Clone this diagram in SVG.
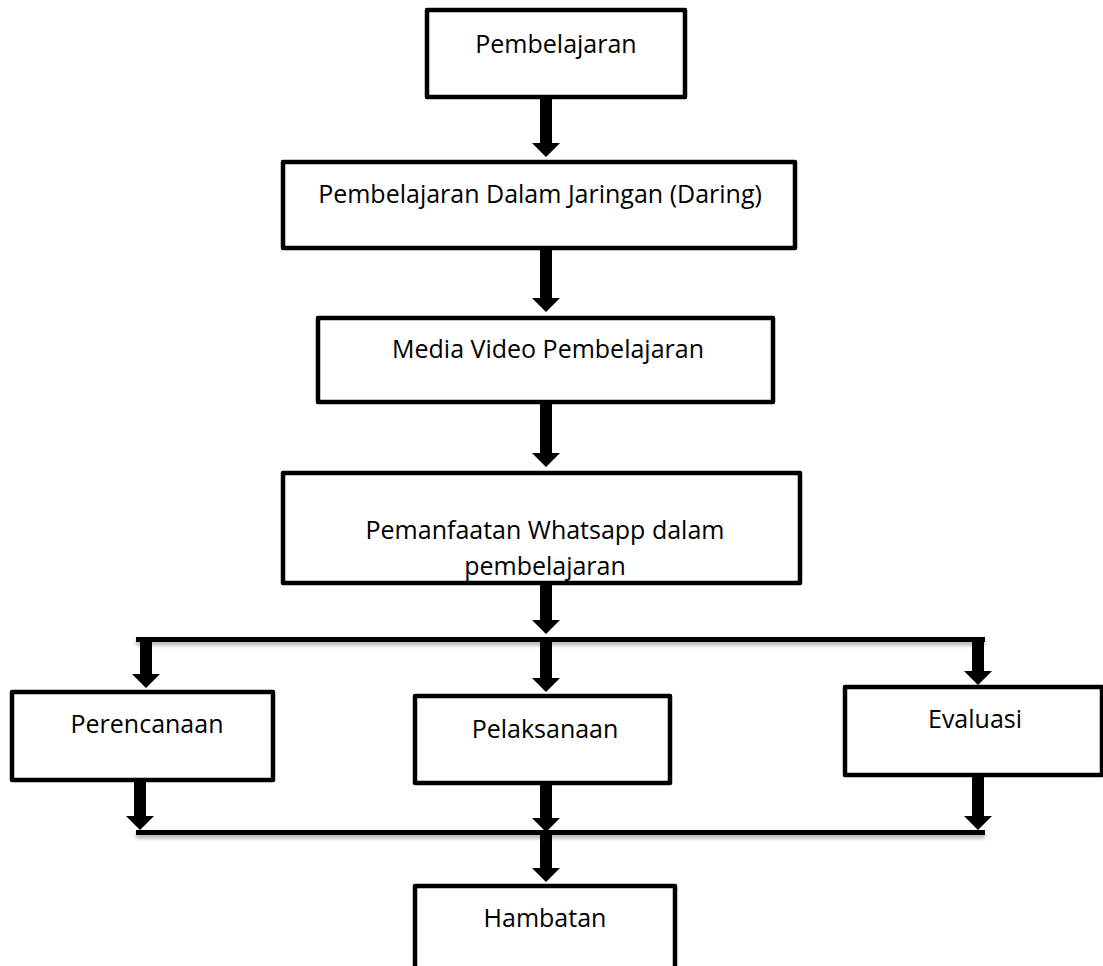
<svg xmlns="http://www.w3.org/2000/svg" width="1103" height="966" viewBox="0 0 1103 966">
<style>
.box{fill:#fff;stroke:#000;stroke-width:4.5;stroke-linejoin:round}
.lbl{font-family:"Open Sans","Liberation Sans",sans-serif;font-size:25px;fill:#000;text-anchor:middle}
.bar{fill:#000;filter:url(#sh)}
.arr{fill:#000}
</style>
<defs>
<filter id="sh" filterUnits="userSpaceOnUse" x="100" y="600" width="930" height="280">
<feGaussianBlur in="SourceAlpha" stdDeviation="2"/>
<feOffset dx="0" dy="3" result="b"/>
<feComponentTransfer in="b" result="c"><feFuncA type="linear" slope="0.35"/></feComponentTransfer>
<feMerge><feMergeNode in="c"/><feMergeNode in="SourceGraphic"/></feMerge>
</filter>
</defs>
<rect width="1103" height="966" fill="#fff"/>
<g id="connectors">
<rect class="bar" x="136" y="637" width="849" height="5"/>
<rect class="bar" x="136" y="830" width="849" height="5"/>
<polygon class="arr" points="540,97 552,97 552,143 560,143 546,157 532,143 540,143"/>
<polygon class="arr" points="540,248 552,248 552,298 560,298 546,312 532,298 540,298"/>
<polygon class="arr" points="540,402 552,402 552,453 560,453 546,467 532,453 540,453"/>
<polygon class="arr" points="540,583 552,583 552,620 560,620 546,634 532,620 540,620"/>
<polygon class="arr" points="140,642 152,642 152,674 160,674 146,688 132,674 140,674"/>
<polygon class="arr" points="540,642 552,642 552,678 560,678 546,692 532,678 540,678"/>
<polygon class="arr" points="972,642 984,642 984,671 992,671 978,685 964,671 972,671"/>
<polygon class="arr" points="134,780 146,780 146,816 154,816 140,830 126,816 134,816"/>
<polygon class="arr" points="540,783 552,783 552,818 560,818 546,832 532,818 540,818"/>
<polygon class="arr" points="972,775 984,775 984,816 992,816 978,830 964,816 972,816"/>
<polygon class="arr" points="540,835 552,835 552,868 560,868 546,882 532,868 540,868"/>
</g>
<g id="n1"><rect class="box" x="427" y="10" width="258" height="87"/><text class="lbl" x="556" y="53">Pembelajaran</text></g>
<g id="n2"><rect class="box" x="283" y="162" width="512" height="86"/><text class="lbl" x="540" y="203">Pembelajaran Dalam Jaringan (Daring)</text></g>
<g id="n3"><rect class="box" x="318" y="318" width="455" height="84"/><text class="lbl" x="548" y="358">Media Video Pembelajaran</text></g>
<g id="n4"><rect class="box" x="283" y="473" width="517" height="110"/><text class="lbl" x="545" y="539">Pemanfaatan Whatsapp dalam</text><text class="lbl" x="545" y="575">pembelajaran</text></g>
<g id="n5"><rect class="box" x="12" y="692" width="261" height="88"/><text class="lbl" x="147" y="733">Perencanaan</text></g>
<g id="n6"><rect class="box" x="415" y="696" width="255" height="87"/><text class="lbl" x="545" y="738">Pelaksanaan</text></g>
<g id="n7"><rect class="box" x="845" y="687" width="257" height="88"/><text class="lbl" x="975" y="728">Evaluasi</text></g>
<g id="n8"><rect class="box" x="415" y="886" width="260" height="100"/><text class="lbl" x="545" y="927">Hambatan</text></g>
</svg>
